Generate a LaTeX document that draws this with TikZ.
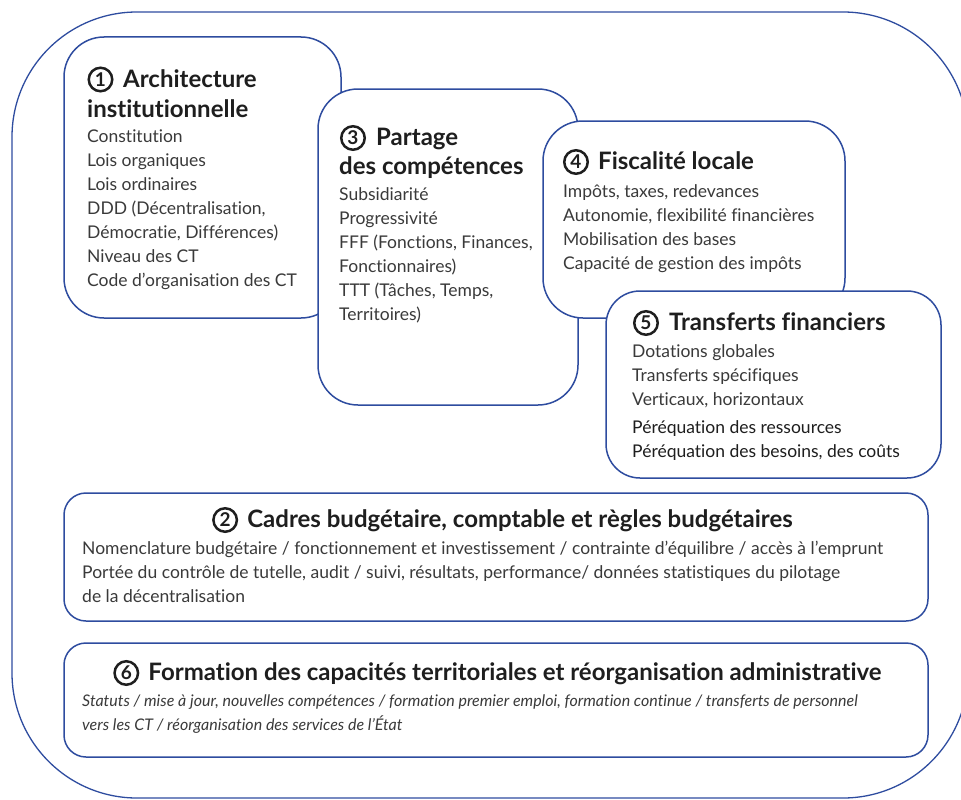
\documentclass[tikz,border=0pt]{standalone}
\usepackage{fontspec}
\setmainfont{Lato}[Ligatures=NoCommon]
\definecolor{frameblue}{HTML}{2E4C9F}
\definecolor{bodygrey}{HTML}{3A3A3A}
\definecolor{titleblack}{HTML}{1E1E1E}

\tikzset{
  box/.style={draw=frameblue, line width=1.5pt, fill=white},
  frame/.style={draw=frameblue, line width=1.3pt},
  cnum/.style={circle, draw=titleblack, line width=2.5pt, minimum size=23.5pt, inner sep=0pt,
    text=titleblack, font=\fontsize{19}{19}\selectfont\bfseries, text height=13.5pt, text depth=0pt},
  title/.style={anchor=west, inner sep=0pt, font=\fontsize{24}{28}\selectfont\bfseries,
    text=titleblack, text height=17pt, text depth=0pt},
  body/.style={anchor=west, inner sep=0pt, font=\fontsize{17.5}{20}\selectfont,
    text=bodygrey, text height=12pt, text depth=0pt},
  bodydark/.style={body, text=titleblack},
  bodyit/.style={body, font=\fontsize{16}{20}\selectfont\itshape}
}

\begin{document}
\begin{tikzpicture}[x=1pt, y=-1pt]
\useasboundingbox (0,0) rectangle (961,800);

% outer frame
\draw[frame, rounded corners=125pt] (12,400) -- (12,798) -- (968,798) -- (968,12) -- (12,12) -- cycle;

% (1) institutional architecture
\draw[box, rounded corners=40pt] (64,37) rectangle (341,318);
\node[cnum] (n1) at (100.5,79.5) {1};
\node[title] (t1a) at (123,78.5) {Architecture};
\node[title] (t1b) at (87,108.5) {institutionnelle};
\foreach \txt [count=\i] in {Constitution, Lois organiques, Lois ordinaires,
    {DDD (Décentralisation,}, {Démocratie, Différences)}, Niveau des CT,
    Code d’organisation des CT}
  \node[body] (a-\i) at (87,112+24*\i) {\txt};

% (3) sharing of competences
\draw[box, rounded corners=40pt] (318,89) rectangle (578,405);
\node[cnum] (n3) at (353,138) {3};
\node[title] (t3a) at (376,137) {Partage};
\node[title] (t3b) at (339,166) {des compétences};
\foreach \txt [count=\i] in {Subsidiarité, Progressivité,
    {FFF (Fonctions, Finances,}, Fonctionnaires), {TTT (Tâches, Temps,},
    Territoires)}
  \node[body] (c-\i) at (339,170+24*\i) {\txt};

% (4) local taxation
\draw[box, rounded corners=40pt] (543,121) rectangle (845,318);
\node[cnum] (n4) at (576,162) {4};
\node[title] (t4) at (598,161) {Fiscalité locale};
\foreach \txt [count=\i] in {{Impôts, taxes, redevances},
    {Autonomie, flexibilité financières}, Mobilisation des bases,
    Capacité de gestion des impôts}
  \node[body] (d-\i) at (563,167+24*\i) {\txt};

% (5) financial transfers
\draw[box, rounded corners=34pt] (606,291) rectangle (941,478);
\node[cnum] (n5) at (646,323) {5};
\node[title] (t5) at (669,322) {Transferts financiers};
\node[body] (e-1) at (632,351) {Dotations globales};
\node[body] (e-2) at (632,375) {Transferts spécifiques};
\node[body] (e-3) at (632,399) {Verticaux, horizontaux};
\node[bodydark] (e-4) at (632,427) {Péréquation des ressources};
\node[bodydark] (e-5) at (632,451) {Péréquation des besoins, des coûts};

% (2) budgetary frameworks
\draw[box, rounded corners=22pt] (64,493) rectangle (928,621);
\node[title, anchor=center] (t2) at (520,519) {Cadres budgétaire, comptable et règles budgétaires};
\node[cnum, anchor=east] (n2) at ([xshift=-9pt, yshift=-1pt]t2.west) {2};
\node[body] (b-1) at (82,548) {Nomenclature budgétaire / fonctionnement et investissement / contrainte d’équilibre / accès à l’emprunt};
\node[body] (b-2) at (82,572) {Portée du contrôle de tutelle, audit / suivi, résultats, performance/ données statistiques du pilotage};
\node[body] (b-3) at (82,596) {de la décentralisation};

% (6) capacity building
\draw[box, rounded corners=22pt] (64,643) rectangle (928,757);
\node[title, anchor=center] (t6) at (515,672) {Formation des capacités territoriales et réorganisation administrative};
\node[cnum, anchor=east] (n6) at ([xshift=-9pt, yshift=-1pt]t6.west) {6};
\node[bodyit] (f-1) at (82,700) {Statuts / mise à jour, nouvelles compétences / formation premier emploi, formation continue / transferts de personnel};
\node[bodyit] (f-2) at (82,724) {vers les CT / réorganisation des services de l’État};
\end{tikzpicture}
\end{document}
